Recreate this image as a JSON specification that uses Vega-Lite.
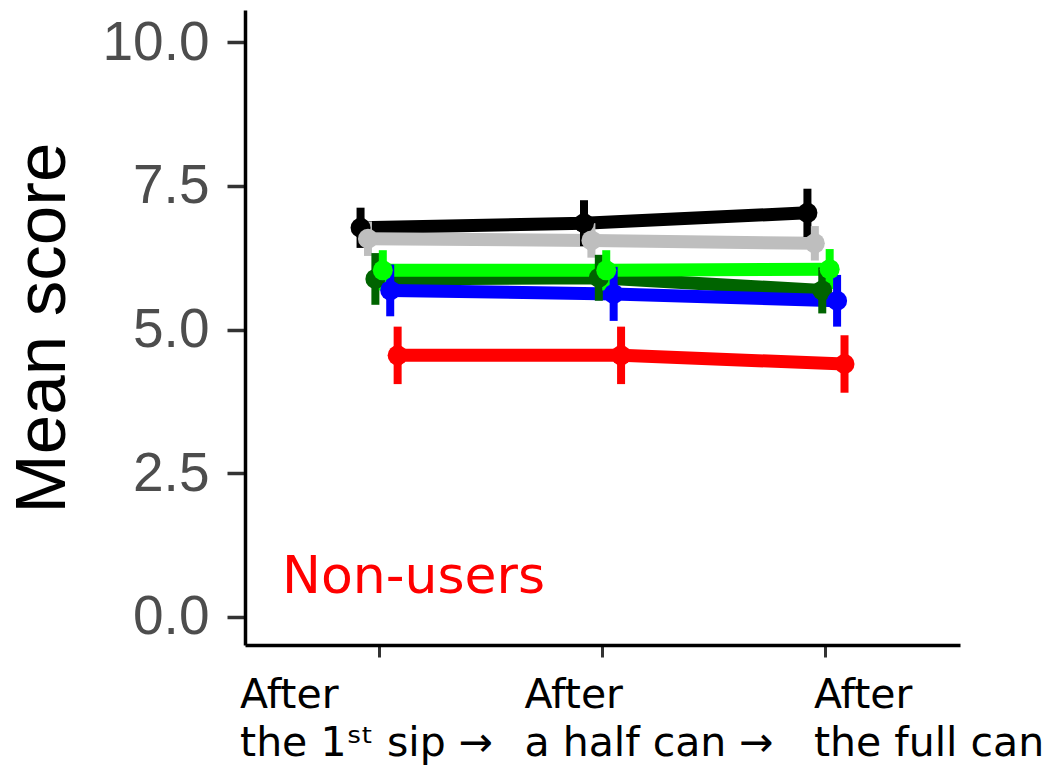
{
  "$schema": "https://vega.github.io/schema/vega-lite/v6.json",
  "width": 715,
  "height": 635,
  "autosize": {"type": "none"},
  "padding": {"left": 245, "top": 10, "right": 90, "bottom": 127},
  "background": "white",
  "config": {"view": {"stroke": null}, "axis": {"grid": false}},
  "layer": [
    {
      "data": {
        "values": [
          {"group": "black", "time": "After the 1st sip", "mean": 6.77, "lo": 6.42, "hi": 7.12},
          {"group": "black", "time": "After a half can", "mean": 6.85, "lo": 6.45, "hi": 7.25},
          {"group": "black", "time": "After the full can", "mean": 7.03, "lo": 6.61, "hi": 7.45},
          {"group": "gray", "time": "After the 1st sip", "mean": 6.58, "lo": 6.28, "hi": 6.88},
          {"group": "gray", "time": "After a half can", "mean": 6.55, "lo": 6.25, "hi": 6.85},
          {"group": "gray", "time": "After the full can", "mean": 6.5, "lo": 6.2, "hi": 6.8},
          {"group": "darkgreen", "time": "After the 1st sip", "mean": 5.88, "lo": 5.43, "hi": 6.33},
          {"group": "darkgreen", "time": "After a half can", "mean": 5.9, "lo": 5.5, "hi": 6.3},
          {"group": "darkgreen", "time": "After the full can", "mean": 5.68, "lo": 5.28, "hi": 6.08},
          {"group": "green", "time": "After the 1st sip", "mean": 6.03, "lo": 5.68, "hi": 6.38},
          {"group": "green", "time": "After a half can", "mean": 6.03, "lo": 5.68, "hi": 6.38},
          {"group": "green", "time": "After the full can", "mean": 6.05, "lo": 5.7, "hi": 6.4},
          {"group": "blue", "time": "After the 1st sip", "mean": 5.68, "lo": 5.23, "hi": 6.13},
          {"group": "blue", "time": "After a half can", "mean": 5.62, "lo": 5.15, "hi": 6.09},
          {"group": "blue", "time": "After the full can", "mean": 5.5, "lo": 5.05, "hi": 5.95},
          {"group": "red", "time": "After the 1st sip", "mean": 4.55, "lo": 4.05, "hi": 5.05},
          {"group": "red", "time": "After a half can", "mean": 4.55, "lo": 4.05, "hi": 5.05},
          {"group": "red", "time": "After the full can", "mean": 4.4, "lo": 3.9, "hi": 4.9}
        ]
      },
      "encoding": {
        "x": {
          "field": "time",
          "type": "nominal",
          "scale": {"type": "band", "domain": ["After the 1st sip", "After a half can", "After the full can"], "paddingInner": 0, "paddingOuter": 0.1},
          "axis": {
            "title": null,
            "labelExpr": "datum.value == 'After the 1st sip' ? ['After', 'the 1ˢᵗ sip →'] : datum.value == 'After a half can' ? ['After', 'a half can →'] : ['After', 'the full can']",
            "labelAngle": 0,
            "labelAlign": "left",
            "labelBaseline": "top",
            "labelFont": "DejaVu Sans",
            "labelFontSize": 41,
            "labelColor": "black",
            "labelLineHeight": 48,
            "labelPadding": 18,
            "labelLimit": 0,
            "labelOverlap": false,
            "labelOffset": {
              "condition": [
                {"test": "datum.value == 'After the 1st sip'", "value": -139},
                {"test": "datum.value == 'After a half can'", "value": -78}
              ],
              "value": -12
            },
            "tickSize": 12,
            "tickWidth": 3,
            "tickColor": "#333333",
            "domainColor": "black",
            "domainWidth": 3.5
          }
        },
        "xOffset": {
          "field": "group",
          "type": "nominal",
          "scale": {"type": "band", "domain": ["black", "gray", "darkgreen", "green", "blue", "red"], "paddingInner": 0, "paddingOuter": 0, "range": [89.5, 134]}
        },
        "y": {
          "field": "mean",
          "type": "quantitative",
          "scale": {"domain": [-0.49, 10.56], "nice": false, "zero": false},
          "axis": {
            "title": "Mean score",
            "titleFont": "Liberation Sans",
            "titleFontSize": 71,
            "titleFontWeight": "normal",
            "titleColor": "black",
            "titlePadding": 22,
            "values": [0, 2.5, 5, 7.5, 10],
            "format": ".1f",
            "labelFont": "Liberation Sans",
            "labelFontSize": 55,
            "labelColor": "#4D4D4D",
            "labelPadding": 18,
            "tickSize": 18,
            "tickWidth": 3.5,
            "tickColor": "#333333",
            "domainColor": "black",
            "domainWidth": 3.5
          }
        },
        "color": {
          "field": "group",
          "type": "nominal",
          "scale": {
            "domain": ["black", "gray", "darkgreen", "green", "blue", "red"],
            "range": ["#000000", "#BEBEBE", "#006400", "#00FF00", "#0000FF", "#FF0000"]
          },
          "legend": null
        }
      },
      "layer": [
        {"mark": {"type": "line", "strokeWidth": 13}},
        {"mark": {"type": "rule", "strokeWidth": 8}, "encoding": {"y": {"field": "lo", "type": "quantitative"}, "y2": {"field": "hi"}}},
        {"mark": {"type": "point", "filled": true, "size": 400, "opacity": 1}}
      ]
    },
    {
      "data": {"values": [{"label": "Non-users", "pos": "After the 1st sip", "yv": 0.42}]},
      "mark": {"type": "text", "align": "left", "baseline": "alphabetic", "font": "DejaVu Sans", "fontSize": 52, "color": "#FF0000", "dx": -97},
      "encoding": {
        "x": {"field": "pos", "type": "nominal", "bandPosition": 0.5},
        "y": {"field": "yv", "type": "quantitative"},
        "text": {"field": "label"}
      }
    }
  ]
}
